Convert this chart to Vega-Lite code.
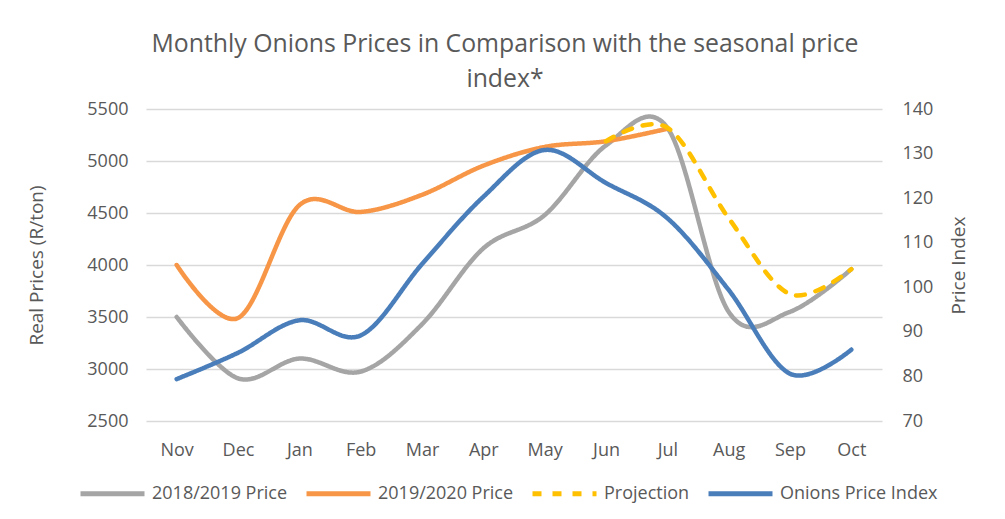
{
  "$schema": "https://vega.github.io/schema/vega-lite/v6.json",
  "width": 736,
  "height": 312,
  "autosize": {"type": "none"},
  "padding": {"left": 146, "top": 109, "right": 123, "bottom": 98},
  "background": "white",
  "title": {
    "text": ["Monthly Onions Prices in Comparison with the seasonal price", "index*"],
    "font": "Open Sans",
    "fontSize": 24.8,
    "fontWeight": "normal",
    "color": "#595959",
    "anchor": "middle",
    "lineHeight": 35,
    "offset": 8,
    "dx": -9
  },
  "config": {
    "view": {"stroke": null},
    "axis": {
      "labelFont": "Open Sans",
      "labelFontSize": 18,
      "labelColor": "#595959",
      "titleFont": "Open Sans",
      "titleFontSize": 19,
      "titleFontWeight": "normal",
      "titleColor": "#595959",
      "domain": false,
      "ticks": false,
      "gridColor": "#d9d9d9",
      "gridWidth": 1.5
    },
    "legend": {
      "labelFont": "Open Sans",
      "labelFontSize": 18,
      "labelColor": "#595959"
    }
  },
  "data": {
    "values": [
      {"month": "Nov", "series": "2018/2019 Price", "value": 3500},
      {"month": "Dec", "series": "2018/2019 Price", "value": 2910},
      {"month": "Jan", "series": "2018/2019 Price", "value": 3100},
      {"month": "Feb", "series": "2018/2019 Price", "value": 2975},
      {"month": "Mar", "series": "2018/2019 Price", "value": 3430},
      {"month": "Apr", "series": "2018/2019 Price", "value": 4160},
      {"month": "May", "series": "2018/2019 Price", "value": 4480},
      {"month": "Jun", "series": "2018/2019 Price", "value": 5150},
      {"month": "Jul", "series": "2018/2019 Price", "value": 5320},
      {"month": "Aug", "series": "2018/2019 Price", "value": 3550},
      {"month": "Sep", "series": "2018/2019 Price", "value": 3550},
      {"month": "Oct", "series": "2018/2019 Price", "value": 3960},
      {"month": "Nov", "series": "2019/2020 Price", "value": 4000},
      {"month": "Dec", "series": "2019/2020 Price", "value": 3490},
      {"month": "Jan", "series": "2019/2020 Price", "value": 4575},
      {"month": "Feb", "series": "2019/2020 Price", "value": 4510},
      {"month": "Mar", "series": "2019/2020 Price", "value": 4675},
      {"month": "Apr", "series": "2019/2020 Price", "value": 4955},
      {"month": "May", "series": "2019/2020 Price", "value": 5135},
      {"month": "Jun", "series": "2019/2020 Price", "value": 5190},
      {"month": "Jul", "series": "2019/2020 Price", "value": 5310},
      {"month": "Jun", "series": "Projection", "value": 5190},
      {"month": "Jul", "series": "Projection", "value": 5320},
      {"month": "Aug", "series": "Projection", "value": 4450},
      {"month": "Sep", "series": "Projection", "value": 3720},
      {"month": "Oct", "series": "Projection", "value": 3960},
      {"month": "Nov", "series": "Onions Price Index", "value": 79.4},
      {"month": "Dec", "series": "Onions Price Index", "value": 85.3},
      {"month": "Jan", "series": "Onions Price Index", "value": 92.6},
      {"month": "Feb", "series": "Onions Price Index", "value": 89.2},
      {"month": "Mar", "series": "Onions Price Index", "value": 105.2},
      {"month": "Apr", "series": "Onions Price Index", "value": 120.3},
      {"month": "May", "series": "Onions Price Index", "value": 130.8},
      {"month": "Jun", "series": "Onions Price Index", "value": 123.4},
      {"month": "Jul", "series": "Onions Price Index", "value": 115.5},
      {"month": "Aug", "series": "Onions Price Index", "value": 99.4},
      {"month": "Sep", "series": "Onions Price Index", "value": 80.6},
      {"month": "Oct", "series": "Onions Price Index", "value": 86}
    ]
  },
  "encoding": {
    "x": {
      "field": "month",
      "type": "ordinal",
      "sort": ["Nov", "Dec", "Jan", "Feb", "Mar", "Apr", "May", "Jun", "Jul", "Aug", "Sep", "Oct"],
      "scale": {"type": "point", "padding": 0.5},
      "axis": {"title": null, "labelAngle": 0, "labelPadding": 20, "grid": false}
    },
    "color": {
      "field": "series",
      "type": "nominal",
      "scale": {
        "domain": ["2018/2019 Price", "2019/2020 Price", "Projection", "Onions Price Index"],
        "range": ["#a5a5a5", "#f79646", "#ffc000", "#4a7ebb"]
      },
      "legend": {
        "title": null,
        "orient": "none",
        "legendX": -68,
        "legendY": 350,
        "direction": "horizontal",
        "symbolType": "stroke",
        "symbolSize": 4096,
        "symbolStrokeWidth": 5,
        "labelOffset": 5,
        "columnPadding": 8
      }
    },
    "strokeDash": {
      "field": "series",
      "type": "nominal",
      "scale": {
        "domain": ["2018/2019 Price", "2019/2020 Price", "Projection", "Onions Price Index"],
        "range": [[1, 0], [1, 0], [9, 11], [1, 0]]
      },
      "legend": {
        "title": null,
        "orient": "none",
        "legendX": -68,
        "legendY": 350,
        "direction": "horizontal",
        "symbolType": "stroke",
        "symbolSize": 4096,
        "symbolStrokeWidth": 5,
        "labelOffset": 5,
        "columnPadding": 8
      }
    }
  },
  "layer": [
    {
      "transform": [{"filter": "datum.series !== 'Onions Price Index'"}],
      "mark": {"type": "line", "interpolate": "cardinal", "strokeWidth": 4.5, "strokeCap": "round"},
      "encoding": {
        "y": {
          "field": "value",
          "type": "quantitative",
          "scale": {"domain": [2500, 5500]},
          "axis": {
            "title": "Real Prices (R/ton)",
            "format": "d",
            "values": [2500, 3000, 3500, 4000, 4500, 5000, 5500],
            "labelPadding": 18,
            "titlePadding": 40
          }
        }
      }
    },
    {
      "transform": [{"filter": "datum.series === 'Onions Price Index'"}],
      "mark": {"type": "line", "interpolate": "cardinal", "strokeWidth": 4.5, "strokeCap": "round"},
      "encoding": {
        "y": {
          "field": "value",
          "type": "quantitative",
          "scale": {"domain": [70, 140]},
          "axis": {
            "orient": "right",
            "title": "Price Index",
            "titleAngle": 270,
            "titleBaseline": "top",
            "grid": false,
            "values": [70, 80, 90, 100, 110, 120, 130, 140],
            "labelPadding": 20,
            "titlePadding": 17
          }
        }
      }
    }
  ],
  "resolve": {"scale": {"y": "independent"}}
}
